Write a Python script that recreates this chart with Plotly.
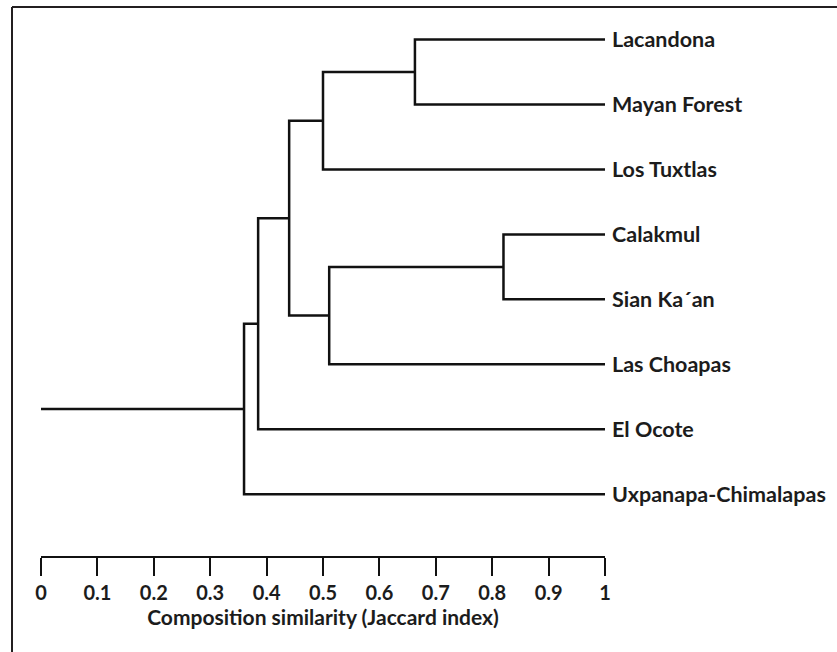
import plotly.graph_objects as go

# ---- data ----
leaves = ["Lacandona", "Mayan Forest", "Los Tuxtlas", "Calakmul", "Sian Ka´an",
          "Las Choapas", "El Ocote", "Uxpanapa-Chimalapas"]
# merges: node ids 0-7 are leaves, new nodes numbered from 8 in order
merge_left = [0, 3, 8, 9, 10, 12, 13]
merge_right = [1, 4, 2, 5, 11, 6, 7]
merge_height = [0.663, 0.82, 0.50, 0.511, 0.44, 0.385, 0.36]
leaf_similarity = 1.0
root_start = 0.0
x_ticks = [0, 0.1, 0.2, 0.3, 0.4, 0.5, 0.6, 0.7, 0.8, 0.9, 1]
x_ticktext = ["0", "0.1", "0.2", "0.3", "0.4", "0.5", "0.6", "0.7", "0.8", "0.9", "1"]

# ---- build dendrogram segments ----
node_x = {i: leaf_similarity for i in range(len(leaves))}
node_y = {i: float(i) for i in range(len(leaves))}
xs, ys = [], []
for k, (a, b, h) in enumerate(zip(merge_left, merge_right, merge_height)):
    nid = len(leaves) + k
    xs += [node_x[a], h, h, node_x[b], None]
    ys += [node_y[a], node_y[a], node_y[b], node_y[b], None]
    node_x[nid] = h
    node_y[nid] = (node_y[a] + node_y[b]) / 2
root = len(leaves) + len(merge_height) - 1
xs += [node_x[root], root_start]
ys += [node_y[root], node_y[root]]

FONT = "Lato"
INK = "#1c1c1c"

fig = go.Figure()
fig.add_trace(go.Scatter(x=xs, y=ys, mode="lines",
                         line=dict(color="#111111", width=2.5),
                         hoverinfo="skip", showlegend=False))

L, R, T, B = 41, 232, 7, 96
W, H = 837, 652
pw, ph = W - L - R, H - T - B

def px_x(p):
    return (p - L) / pw

def px_y(p):
    return (H - B - p) / ph

fig.update_layout(
    width=W, height=H,
    margin=dict(l=L, r=R, t=T, b=B, pad=0),
    paper_bgcolor="white", plot_bgcolor="white",
    font=dict(family=FONT, color=INK),
    xaxis=dict(range=[0, 1], tickvals=x_ticks, ticktext=x_ticktext,
               showgrid=False, zeroline=False,
               showline=True, linecolor="#111111", linewidth=2,
               ticks="outside", ticklen=18, tickwidth=2, tickcolor="#111111",
               tickfont=dict(family=FONT, size=20, color=INK, weight="bold"),
               title=dict(text="Composition similarity (Jaccard index)",
                          font=dict(family=FONT, size=21, color=INK, weight="bold"),
                          standoff=4)),
    yaxis=dict(range=[7.95, -0.5], tickvals=list(range(len(leaves))), ticktext=leaves,
               side="right", showgrid=False, zeroline=False, showline=False,
               ticks="", ticklabelstandoff=6,
               tickfont=dict(family=FONT, size=21.5, color=INK, weight="bold")),
    shapes=[
        dict(type="line", xref="paper", yref="paper",
             x0=px_x(12), y0=px_y(7), x1=px_x(837), y1=px_y(7),
             line=dict(color="#231f20", width=2)),
        dict(type="line", xref="paper", yref="paper",
             x0=px_x(12), y0=px_y(7), x1=px_x(12), y1=px_y(652),
             line=dict(color="#231f20", width=2)),
    ],
)

fig.write_html("out.html", config={"displayModeBar": False},
               post_script="document.body.style.margin='0';document.body.style.overflow='hidden';")
